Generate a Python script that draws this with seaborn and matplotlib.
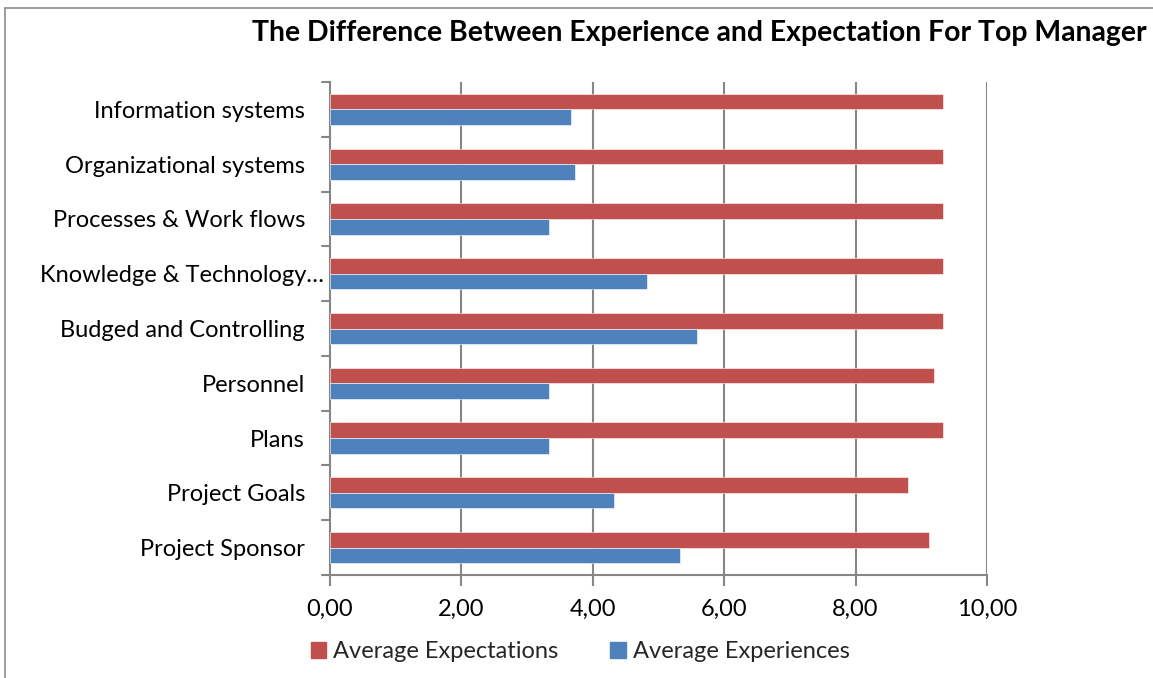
import matplotlib
matplotlib.use("Agg")
import matplotlib.pyplot as plt
import matplotlib.transforms as mtransforms
from matplotlib.lines import Line2D
import seaborn as sns
import pandas as pd

categories = [
    "Information systems",
    "Organizational systems",
    "Processes & Work flows",
    "Knowledge & Technology\u2026",
    "Budged and Controlling",
    "Personnel",
    "Plans",
    "Project Goals",
    "Project Sponsor",
]
expectations = [9.33, 9.33, 9.33, 9.33, 9.33, 9.20, 9.33, 8.79, 9.12]
experiences = [3.67, 3.73, 3.33, 4.83, 5.58, 3.33, 3.33, 4.33, 5.33]
series_names = ["Average Expectations", "Average Experiences"]
series_colors = ["#C0504D", "#4F81BD"]
x_ticks = [0, 2, 4, 6, 8, 10]
x_tick_labels = ["0,00", "2,00", "4,00", "6,00", "8,00", "10,00"]
title = "The Difference Between Experience and Expectation For Top Manager"

df = pd.DataFrame({
    "category": categories * 2,
    "value": expectations + experiences,
    "series": [series_names[0]] * len(categories) + [series_names[1]] * len(categories),
})

sns.set_theme(style="white")
plt.rcParams["font.family"] = ["Lato", "DejaVu Sans"]

fig = plt.figure(figsize=(11.53, 6.78), dpi=100)
ax = fig.add_axes([330 / 1153, 1 - 575 / 678, (987 - 330) / 1153, (575 - 82) / 678])

sns.barplot(
    data=df, y="category", x="value", hue="series",
    order=categories, hue_order=series_names,
    palette=series_colors, orient="h", width=0.57,
    saturation=1, legend=False, ax=ax, zorder=3,
    edgecolor="white", linewidth=0.4,
)

grid_color = "#868686"
ax.set_xlim(0, 10)
ax.set_ylim(len(categories) - 0.5, -0.5)
ax.set_xticks(x_ticks)
ax.set_xticklabels(x_tick_labels)
for xv in x_ticks[1:]:
    ax.axvline(xv, color=grid_color, linewidth=1.5, zorder=1)

ax.set_yticks([i for i in range(len(categories))])
ax.set_yticklabels(categories)
ax.tick_params(axis="y", length=0, pad=18, labelsize=17, labelcolor="black")
ax.tick_params(axis="x", length=8, width=1.5, color=grid_color, direction="out",
               pad=9, labelsize=17, labelcolor="black", bottom=True)

# the truncated label runs closer to the axis
for lbl in ax.get_yticklabels():
    if lbl.get_text().endswith("\u2026"):
        lbl.set_transform(lbl.get_transform()
                          + mtransforms.ScaledTranslation(19 / 100, 0, fig.dpi_scale_trans))

# category boundary ticks on the left spine
for b in [i - 0.5 for i in range(len(categories) + 1)]:
    ax.add_line(Line2D([-0.012, 0], [b, b], transform=ax.get_yaxis_transform(),
                       color=grid_color, linewidth=1.5, clip_on=False))

for side in ["top", "right"]:
    ax.spines[side].set_visible(False)
for side in ["left", "bottom"]:
    ax.spines[side].set_color(grid_color)
    ax.spines[side].set_linewidth(1.5)
ax.set_xlabel("")
ax.set_ylabel("")

fig.text(699 / 1153, 1 - 33 / 678, title, ha="center", va="center",
         fontsize=20.4, fontweight="bold", color="black")

handles = [plt.Rectangle((0, 0), 1, 1, color=c) for c in series_colors]
fig.legend(handles, series_names, loc="center", bbox_to_anchor=(580 / 1153, 1 - 652 / 678),
           ncol=2, frameon=False, fontsize=17, handlelength=0.65, handleheight=0.65,
           handletextpad=0.3, columnspacing=2.2)

# outer chart border
fig.add_artist(Line2D([5 / 1153, 5 / 1153], [0, 1 - 8 / 678], transform=fig.transFigure,
                      color="#8C8C8C", linewidth=1.2))
fig.add_artist(Line2D([5 / 1153, 1], [1 - 8 / 678, 1 - 8 / 678], transform=fig.transFigure,
                      color="#8C8C8C", linewidth=1.2))

fig.savefig("out.png", dpi=100)
